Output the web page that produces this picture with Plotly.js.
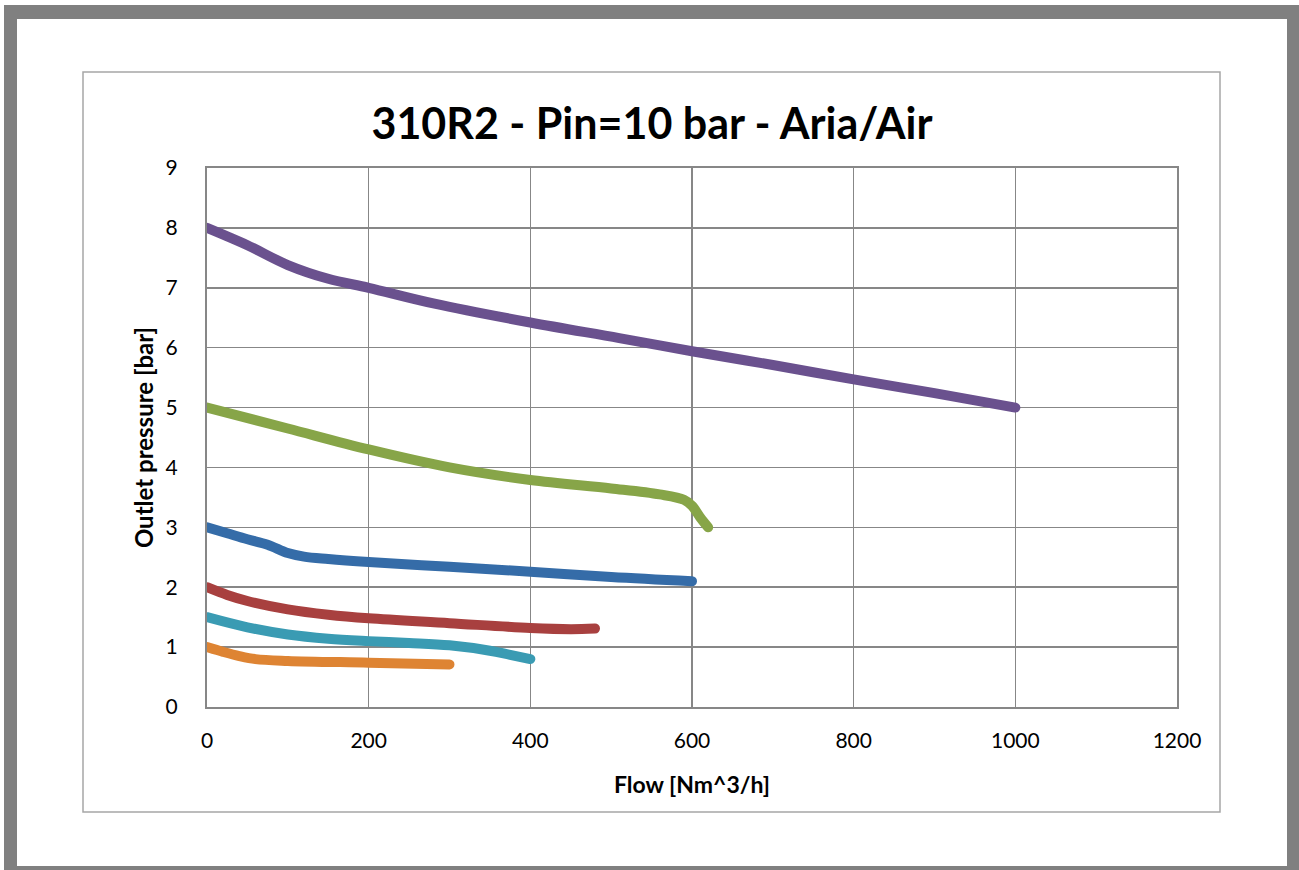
<!DOCTYPE html>
<html>
<head>
<meta charset="utf-8">
<script src="https://cdn.plot.ly/plotly-3.0.1.min.js"></script>
<style>
html,body{margin:0;padding:0;background:#fff;}
#chart{width:1299px;height:870px;}
#chart path.js-line{stroke-linecap:round !important;stroke-linejoin:round !important;}
</style>
</head>
<body>
<div id="chart"></div>
<script>
// Data
var purpleX = [0, 50, 100, 150, 200, 280, 400, 510, 600, 700, 800, 900, 1000];
var purpleY = [8.0, 7.71, 7.38, 7.15, 7.0, 6.74, 6.42, 6.16, 5.94, 5.71, 5.47, 5.24, 5.0];

var greenX = [0, 100, 200, 300, 400, 500, 560, 590, 600, 610, 620];
var greenY = [5.0, 4.65, 4.3, 4.0, 3.79, 3.65, 3.55, 3.46, 3.36, 3.17, 3.0];

var blueX = [0, 25, 50, 75, 100, 120, 150, 200, 300, 400, 500, 600];
var blueY = [3.0, 2.9, 2.8, 2.71, 2.57, 2.51, 2.47, 2.42, 2.34, 2.26, 2.17, 2.1];

var redX = [0, 25, 50, 100, 150, 200, 300, 400, 450, 480];
var redY = [2.0, 1.87, 1.77, 1.63, 1.54, 1.48, 1.40, 1.32, 1.30, 1.31];

var cyanX = [0, 50, 100, 150, 200, 250, 300, 350, 375, 400];
var cyanY = [1.5, 1.33, 1.21, 1.14, 1.10, 1.07, 1.03, 0.94, 0.87, 0.8];

var orangeX = [0, 20, 40, 60, 100, 200, 300];
var orangeY = [1.0, 0.92, 0.85, 0.80, 0.77, 0.74, 0.71];

var xTicks = [0, 200, 400, 600, 800, 1000, 1200];
var yTicks = [0, 1, 2, 3, 4, 5, 6, 7, 8, 9];

var titleText = "310R2 - Pin=10 bar - Aria/Air";
var xTitle = "Flow [Nm^3/h]";
var yTitle = "Outlet pressure [bar]";

// layout geometry (pixels)
var W = 1299, H = 870;
var PL = 207, PR = 1177, PT = 168, PB = 707;
function px(x){ return (x - PL) / (PR - PL); }
function py(y){ return (PB - y) / (PB - PT); }

function line(x, y, color) {
  return {
    x: x, y: y, type: 'scatter', mode: 'lines',
    line: {color: color, width: 10, shape: 'spline', smoothing: 1.0},
    hoverinfo: 'skip', showlegend: false
  };
}

var traces = [
  line(orangeX, orangeY, '#DE8433'),
  line(cyanX, cyanY, '#3A9BB3'),
  line(redX, redY, '#A8403F'),
  line(blueX, blueY, '#356CA8'),
  line(greenX, greenY, '#87A548'),
  line(purpleX, purpleY, '#6A518E')
];

var font = "Lato, 'Open Sans', sans-serif";

var layout = {
  width: W, height: H,
  margin: {l: PL, r: W - PR, t: PT, b: H - PB, pad: 0},
  paper_bgcolor: '#ffffff',
  plot_bgcolor: '#e7e7e5',
  font: {family: font, color: '#000000', size: 21},
  title: {
    text: '<b>' + titleText + '</b>',
    font: {family: font, size: 43, color: '#000000'},
    x: px(652), xanchor: 'center',
    y: 1 - 124 / H, yanchor: 'middle',
    xref: 'paper', yref: 'container'
  },
  xaxis: {
    range: [0, 1200],
    tickvals: xTicks,
    ticktext: xTicks.map(String),
    showgrid: true, gridcolor: '#878787', gridwidth: 1.6,
    zeroline: false,
    showline: true, mirror: true, linecolor: '#878787', linewidth: 2,
    ticks: 'outside', ticklen: 14, tickcolor: 'rgba(0,0,0,0)',
    tickfont: {family: font, size: 21, color: '#000000'},
    title: {text: '<b>' + xTitle + '</b>', font: {family: font, size: 23, color: '#000000'}, standoff: 26},
    automargin: false,
    fixedrange: true
  },
  yaxis: {
    range: [0, 9],
    tickvals: yTicks,
    ticktext: yTicks.map(String),
    showgrid: true, gridcolor: '#878787', gridwidth: 1.6,
    zeroline: false,
    showline: true, mirror: true, linecolor: '#878787', linewidth: 2,
    ticks: 'outside', ticklen: 23, tickcolor: 'rgba(0,0,0,0)',
    tickfont: {family: font, size: 21, color: '#000000'},
    title: {text: '<b>' + yTitle + '</b>', font: {family: font, size: 24, color: '#000000'}, standoff: 5},
    automargin: false,
    fixedrange: true
  },
  shapes: [
    {type: 'rect', xref: 'paper', yref: 'paper', layer: 'below',
     x0: px(4), x1: px(1310), y0: py(5), y1: py(880),
     fillcolor: '#808080', line: {width: 0}},
    {type: 'rect', xref: 'paper', yref: 'paper', layer: 'below',
     x0: px(17), x1: px(1287), y0: py(19), y1: py(866),
     fillcolor: '#ffffff', line: {width: 0}},
    {type: 'rect', xref: 'paper', yref: 'paper', layer: 'below',
     x0: px(83), x1: px(1220), y0: py(72), y1: py(812),
     fillcolor: 'rgba(0,0,0,0)', line: {color: '#a6a6a6', width: 1.5}}
  ]
};

Plotly.newPlot('chart', traces, layout, {staticPlot: true, displayModeBar: false});
</script>
</body>
</html>
